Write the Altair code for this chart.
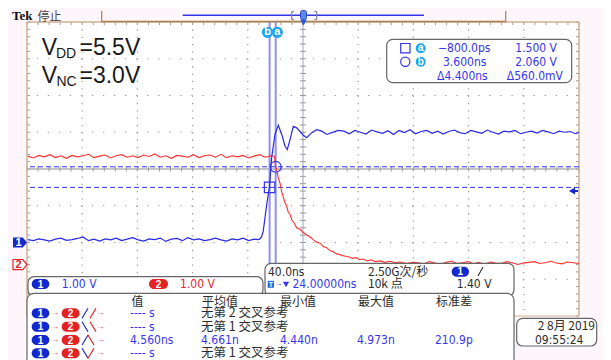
import altair as alt
import pandas as pd

# ---------------- data (read from the scope screen) ----------------
# time in ns (relative to trigger), voltage in V
CH1_BASE_T = list(range(-176, -11, 4))
CH1_BASE_V = [0.08, 0.05, 0.10, 0.07, 0.04, 0.09, 0.12, 0.06, 0.08, 0.11,
              0.15, 0.05, 0.09, 0.04, 0.10, 0.07, 0.12, 0.05, 0.09, 0.13,
              0.07, 0.04, 0.10, 0.08, 0.12, 0.03, 0.09, 0.11, 0.05, 0.13,
              0.07, 0.10, 0.05, 0.08, 0.12, 0.07, 0.04, 0.10, 0.07, 0.12,
              0.05, 0.09]
CH1_EDGE_T = [-9.2, -8.0, -6.6, -5.4, -2.9, -0.9, 0.7, 3.1, 5.5, 8.0,
              10.4, 12.0, 14.0, 16.4, 18.8, 21.2, 23.6, 26.1, 29.7, 33.3,
              37.0, 40.6, 44.2, 49.0]
CH1_EDGE_V = [0.08, 0.09, 0.16, 0.31, 1.03, 1.52, 2.31, 2.94, 3.19, 2.94,
              2.62, 2.53, 2.80, 3.16, 3.12, 3.02, 2.92, 2.85, 2.99, 3.07,
              3.03, 2.94, 2.99, 3.05]
CH1_HIGH_T = list(range(53, 222, 4)) + [223.4]
CH1_HIGH_V = [3.03, 2.96, 3.05, 3.00, 2.95, 3.06, 3.01, 2.97, 3.04, 2.94,
              3.05, 2.99, 3.07, 2.96, 3.02, 3.05, 2.97, 3.03, 2.95, 3.02,
              3.06, 2.99, 2.96, 3.05, 3.01, 2.97, 3.06, 3.00, 2.95, 3.03,
              3.01, 3.05, 2.96, 3.00, 3.03, 2.98, 3.05, 3.01, 2.96, 3.03,
              3.00, 3.02, 2.96, 3.00]

CH2_HIGH_T = list(range(-176, 1, 4))
CH2_HIGH_V = [2.95, 2.90, 2.97, 2.93, 2.99, 2.91, 2.96, 2.89, 2.97, 2.93,
              2.96, 3.00, 2.91, 2.95, 2.98, 2.90, 2.96, 2.99, 2.92, 2.96,
              2.91, 2.98, 2.94, 3.01, 2.92, 2.96, 2.89, 2.97, 2.95, 2.92,
              2.99, 2.91, 2.96, 2.98, 2.92, 3.00, 2.91, 2.96, 2.93, 2.97,
              2.90, 2.95, 2.99, 2.92, 2.96]
CH2_EDGE_T = [2.75, 3.25, 4.2, 5.5, 6.7, 7.9, 9.2, 10.4, 11.5, 12.7,
              14.0, 15.2, 17.0, 18.8, 21.2, 23.6, 26.0, 28.5, 31.0, 33.3,
              35.7, 38.1, 40.5, 43.0, 45.4, 47.8, 50.1, 52.4, 55.0, 57.5,
              59.6, 61.8, 64.5, 67.1, 69.9, 72.7, 76.0, 79.2, 82.8, 86.5,
              90.1, 93.7, 98.4, 103.1]
CH2_EDGE_V = [2.95, 2.72, 2.59, 2.36, 2.22, 1.99, 1.83, 1.68, 1.60, 1.43,
              1.37, 1.22, 1.13, 1.00, 0.96, 0.87, 0.81, 0.75, 0.67, 0.61,
              0.58, 0.49, 0.46, 0.38, 0.35, 0.29, 0.27, 0.24, 0.22, 0.20,
              0.17, 0.19, 0.13, 0.15, 0.10, 0.13, 0.08, 0.10, 0.06, 0.09,
              0.05, 0.07, 0.03, 0.06]
CH2_TAIL_T = list(range(107, 224, 4)) + [223.4]
CH2_TAIL_V = [0.05, 0.02, 0.08, 0.04, 0.01, 0.06, 0.09, 0.03, 0.05, 0.08,
              0.02, 0.06, 0.01, 0.07, 0.04, 0.03, 0.08, 0.05, 0.00, 0.04,
              0.06, 0.08, 0.03, 0.05, 0.09, 0.04, 0.02, 0.07, 0.05, 0.03,
              0.05]

CURSOR_A = (-0.8, 1.500)   # (ns, V)
CURSOR_B = (3.6, 2.060)
TRIG_LEVEL = 1.40

READOUT_T = ["\u2212800.0ps", "3.600ns", "\u03944.400ns"]
READOUT_V = ["1.500 V", "2.060 V", "\u0394560.0mV"]
CH_SCALE = ["1.00 V", "1.00 V"]
MEAS_HEAD = ["值", "平均值", "最小值", "最大值", "标准差"]
MEAS_VALUE = ["---- s", "---- s", "4.560ns", "---- s"]
MEAS_MEAN = ["无第 2 交叉参考", "无第 1 交叉参考", "4.661n", "无第 1 交叉参考"]
MEAS_MIN = ["", "", "4.440n", ""]
MEAS_MAX = ["", "", "4.973n", ""]
MEAS_STD = ["", "", "210.9p", ""]

# ---------------- screen geometry ----------------
NS_PER_DIV = 40.0
T_CENTER = 23.4
T_MIN, T_MAX = T_CENTER - 5 * NS_PER_DIV, T_CENTER + 5 * NS_PER_DIV
CH1_OFF, CH2_OFF = -2.0, -2.6          # channel ground positions in divisions
W, H = 552, 294
X0, Y0 = 27, 22                        # page position of graticule

BLUE_TR = "#2a2ae6"
RED_TR = "#ff3030"
CUR_V = "#8f8ff5"
CUR_H = "#3434e8"
TXT_BLUE = "#3636ee"
PILL_BLUE = "#1428d0"
PILL_RED = "#e42222"
CYAN = "#1ca6ee"
FRAME = "#d2b292"
BROWN = "#a8804f"
GRID = "#9a9a9a"
DARK = "#2c2c2c"
EDGE = "#666666"

NUM = "Liberation Sans Narrow, DejaVu Sans Condensed, Liberation Sans, sans-serif"
CJK = "Noto Sans CJK SC"
SANS = "Liberation Sans, Arial, sans-serif"

xs = alt.Scale(domain=[T_MIN, T_MAX], nice=False, zero=False)
ys = alt.Scale(domain=[-4, 4], nice=False, zero=False)
XT = alt.X("t:Q", scale=xs, axis=None)
YD = alt.Y("div:Q", scale=ys, axis=None)

ONE = pd.DataFrame({"k": [0]})


def X(px):
    return alt.value(px - X0)


def Y(py):
    return alt.value(py - Y0)


def tx(s, x, y, size=12, color=DARK, font=NUM, align="left", baseline="middle", weight="normal"):
    return alt.Chart(ONE).mark_text(text=s, fontSize=size, color=color, font=font, align=align,
                                    baseline=baseline, fontWeight=weight).encode(x=X(x), y=Y(y))


def box(x1, y1, x2, y2, fill="white", stroke=None, sw=1.0, r=0, fo=1.0):
    props = dict(cornerRadius=r, fill=fill, fillOpacity=fo)
    if stroke is not None:
        props.update(stroke=stroke, strokeWidth=sw)
    return alt.Chart(ONE).mark_rect(**props).encode(x=X(x1), x2=X(x2), y=Y(y1), y2=Y(y2))


def seg(x1, y1, x2, y2, color, sw=1.0, dash=None):
    props = dict(color=color, strokeWidth=sw)
    if dash is not None:
        props["strokeDash"] = dash
    return alt.Chart(ONE).mark_rule(**props).encode(x=X(x1), x2=X(x2), y=Y(y1), y2=Y(y2))


def pt(x, y, shape, size, color, filled=True, sw=1.0):
    return alt.Chart(ONE).mark_point(shape=shape, size=size, color=color, filled=filled,
                                     opacity=1, strokeWidth=sw).encode(x=X(x), y=Y(y))


def pill(x1, x2, yc, color, label, h=10):
    return [box(x1, yc - h / 2, x2, yc + h / 2, fill=color, r=h / 2),
            tx(label, (x1 + x2) / 2, yc + 0.5, size=10, color="white", font=SANS, align="center", weight="bold")]


layers = []

# ---------------- graticule ----------------
grid_t = pd.DataFrame({"t": [T_MIN + NS_PER_DIV * k for k in range(1, 10) if k != 5]})
grid_d = pd.DataFrame({"div": [-3, -2, -1, 1, 2, 3]})
layers.append(alt.Chart(grid_t).mark_rule(color=GRID, strokeDash=[1.3, 6.05], strokeWidth=1.2).encode(x=XT))
layers.append(alt.Chart(grid_d).mark_rule(color=GRID, strokeDash=[1.3, 9.74], strokeWidth=1.2).encode(y=YD))
layers.append(alt.Chart(pd.DataFrame({"t": [T_CENTER]})).mark_rule(color="#c2c2d2", strokeWidth=1.5).encode(x=XT))
layers.append(alt.Chart(pd.DataFrame({"div": [0]})).mark_rule(color="#8a8a8a", strokeWidth=1).encode(y=YD))

minor_t = pd.DataFrame({"t": [T_MIN + 8 * k for k in range(51)]})
minor_d = pd.DataFrame({"div": [-4 + 0.2 * k for k in range(41)]})
layers.append(alt.Chart(minor_t).mark_rule(color=GRID).encode(x=XT, y=alt.value(H / 2 - 2.5), y2=alt.value(H / 2 + 2.5)))
layers.append(alt.Chart(minor_d).mark_rule(color=GRID).encode(y=YD, x=alt.value(W / 2 - 3), x2=alt.value(W / 2 + 3)))
layers.append(alt.Chart(minor_t).mark_rule(color=GRID).encode(x=XT, y=alt.value(0), y2=alt.value(3)))
layers.append(alt.Chart(minor_d).mark_rule(color=GRID).encode(y=YD, x=alt.value(W - 3), x2=alt.value(W)))
layers.append(alt.Chart(minor_d).mark_rule(color=GRID).encode(y=YD, x=alt.value(0), x2=alt.value(3)))

# frame
layers.append(seg(27, 22, 579, 22, FRAME, 1.5))
layers.append(seg(27, 22, 27, 316, FRAME, 1.5))
layers.append(seg(579, 22, 579, 316, FRAME, 1.5))
layers.append(seg(27, 316, 579, 316, FRAME, 1.0))

# ---------------- cursors (behind traces) ----------------
cur = pd.DataFrame({"t": [CURSOR_A[0], CURSOR_B[0]],
                    "div": [CURSOR_A[1] + CH1_OFF, CURSOR_B[1] + CH1_OFF]})
layers.append(alt.Chart(cur).mark_rule(color=CUR_V, strokeWidth=2).encode(x=XT))
layers.append(alt.Chart(cur).mark_rule(color=CUR_H, strokeWidth=1, strokeDash=[5, 3]).encode(y=YD))

# ---------------- traces ----------------
ch1 = pd.DataFrame({"t": CH1_BASE_T + CH1_EDGE_T + CH1_HIGH_T,
                    "v": CH1_BASE_V + CH1_EDGE_V + CH1_HIGH_V})
ch1["div"] = ch1["v"] + CH1_OFF
ch2 = pd.DataFrame({"t": CH2_HIGH_T + CH2_EDGE_T + CH2_TAIL_T,
                    "v": CH2_HIGH_V + CH2_EDGE_V + CH2_TAIL_V})
ch2["div"] = ch2["v"] + CH2_OFF
layers.append(alt.Chart(ch2).mark_line(color=RED_TR, strokeWidth=1.1, clip=True).encode(x=XT, y=YD, order="t:Q"))
layers.append(alt.Chart(ch1).mark_line(color=BLUE_TR, strokeWidth=1.2, clip=True).encode(x=XT, y=YD, order="t:Q"))

# cursor markers
layers.append(alt.Chart(cur.iloc[[0]]).mark_point(shape="square", size=110, filled=False, color=CUR_H,
                                                 opacity=1, strokeWidth=1.2).encode(x=XT, y=YD))
layers.append(alt.Chart(cur.iloc[[1]]).mark_point(shape="circle", size=120, filled=False, color=CUR_H,
                                                 opacity=1, strokeWidth=1.2).encode(x=XT, y=YD))

# trigger level marker (right)
trig = pd.DataFrame({"div": [TRIG_LEVEL + CH1_OFF]})
layers.append(alt.Chart(trig).mark_point(shape="triangle-left", size=50, filled=True, color=PILL_BLUE,
                                         opacity=1).encode(y=YD, x=alt.value(W - 7)))
layers.append(alt.Chart(trig).mark_rule(color=PILL_BLUE, strokeWidth=2).encode(y=YD, x=alt.value(W - 7), x2=alt.value(W - 1)))

# channel ground markers (left)
PENTA = "M-1,-0.72 L0.4,-0.72 L1,0 L0.4,0.72 L-1,0.72 Z"
g1 = pd.DataFrame({"div": [CH1_OFF]})
g2 = pd.DataFrame({"div": [CH2_OFF]})
layers.append(alt.Chart(g1).mark_point(shape=PENTA, size=196, filled=True, color=PILL_BLUE, opacity=1).encode(y=YD, x=alt.value(20 - X0)))
layers.append(alt.Chart(g1).mark_text(text="1", color="white", fontSize=11, fontWeight="bold", font=SANS).encode(y=YD, x=alt.value(18.5 - X0)))
layers.append(alt.Chart(g2).mark_point(shape=PENTA, size=196, filled=True, color="white", opacity=1).encode(y=YD, x=alt.value(20 - X0)))
layers.append(alt.Chart(g2).mark_point(shape=PENTA, size=196, filled=False, color=PILL_RED, opacity=1, strokeWidth=1.2).encode(y=YD, x=alt.value(20 - X0)))
layers.append(alt.Chart(g2).mark_text(text="2", color=PILL_RED, fontSize=11, fontWeight="bold", font=SANS).encode(y=YD, x=alt.value(18.5 - X0)))

# cursor labels at top
layers.append(pt(267.5, 32.3, "circle", 125, CYAN))
layers.append(tx("b", 267.5, 32.3, size=11, color="white", font=SANS, align="center", weight="bold"))
layers.append(pt(277.3, 32.3, "circle", 125, CYAN))
layers.append(tx("a", 277.3, 32.3, size=11, color="white", font=SANS, align="center", weight="bold"))

# ---------------- top bar ----------------
layers.append(tx("Tek", 12, 20, size=13, color="#111111", font="Liberation Serif, serif", baseline="alphabetic", weight="bold"))
layers.append(tx("停止", 37.5, 20.5, size=12, color="#444444", font=CJK, baseline="alphabetic"))
layers.append(seg(101.7, 21.5, 505.7, 21.5, BROWN, 1.5))
layers.append(seg(101.7, 11, 101.7, 22, BROWN, 1.2))
layers.append(seg(505.7, 11, 505.7, 22, BROWN, 1.2))
layers.append(seg(182.7, 15.3, 424, 15.3, CUR_H, 1.5))
layers.append(seg(291.7, 11.5, 291.7, 19.5, "#7a84a8", 1.2))
layers.append(seg(291.7, 11.5, 294, 11.5, "#7a84a8", 1.2))
layers.append(seg(291.7, 19.5, 294, 19.5, "#7a84a8", 1.2))
layers.append(seg(316.7, 11.5, 316.7, 19.5, "#7a84a8", 1.2))
layers.append(seg(314.4, 11.5, 316.7, 11.5, "#7a84a8", 1.2))
layers.append(seg(314.4, 19.5, 316.7, 19.5, "#7a84a8", 1.2))
layers.append(box(300.5, 10.5, 306.5, 19.5, fill="#5a8ae6", stroke="#2a4ac8", sw=1, r=2))
layers.append(pt(303.5, 22.5, "triangle-down", 45, "#2a5ae0"))

# ---------------- V labels ----------------
layers.append(tx("V", 41.7, 55, size=23, color="#1a1a1a", font=SANS, baseline="alphabetic"))
layers.append(tx("DD", 56, 57.5, size=14, color="#1a1a1a", font=SANS, baseline="alphabetic"))
layers.append(tx("=5.5V", 79.5, 55, size=23, color="#1a1a1a", font=SANS, baseline="alphabetic"))
layers.append(tx("V", 41.7, 82.7, size=23, color="#1a1a1a", font=SANS, baseline="alphabetic"))
layers.append(tx("NC", 56.5, 86, size=14, color="#1a1a1a", font=SANS, baseline="alphabetic"))
layers.append(tx("=3.0V", 79.5, 82.7, size=23, color="#1a1a1a", font=SANS, baseline="alphabetic"))

# ---------------- cursor readout box ----------------
layers.append(box(386.7, 39.3, 571.7, 82.7, fill="white", stroke=EDGE, sw=1.2, r=6))
layers.append(box(400.7, 43.5, 410, 52.8, fill="white", stroke=CUR_H, sw=1.2))
layers.append(pt(405.3, 61.7, "circle", 85, CUR_H, filled=False, sw=1.2))
layers.append(pt(420.7, 48.3, "circle", 100, CYAN))
layers.append(tx("a", 420.7, 48.3, size=10, color="white", font=SANS, align="center", weight="bold"))
layers.append(pt(420.7, 61.7, "circle", 100, CYAN))
layers.append(tx("b", 420.7, 61.7, size=10, color="white", font=SANS, align="center", weight="bold"))
for i, (yy, xl) in enumerate([(48.3, 438), (61.7, 443), (75.5, 437)]):
    layers.append(tx(READOUT_T[i], xl, yy, size=12, color=TXT_BLUE))
for i, (yy, xr) in enumerate([(48.3, 557), (61.7, 557), (75.5, 563)]):
    layers.append(tx(READOUT_V[i], xr, yy, size=12, color=TXT_BLUE, align="right"))

# ---------------- bottom boxes ----------------
# timebase box
layers.append(box(265, 263.3, 514, 296, fill="white", stroke=EDGE, sw=1.2, r=6))
layers.append(tx("40.0ns", 268, 271.7, size=12, color=DARK))
layers.append(tx("2.50G次/秒", 368, 271.7, size=12, color=DARK, font=CJK))
layers += pill(451.7, 469, 271.7, PILL_BLUE, "1")
layers.append(seg(478, 276, 483, 267, DARK, 1.1))
layers.append(box(267.7, 280.8, 274, 287.8, fill="#2a6ae8"))
layers.append(tx("T", 270.9, 284.5, size=7, color="white", font=SANS, align="center", weight="bold"))
layers.append(tx("\u2192", 274.3, 284.3, size=8, color=TXT_BLUE, font=SANS))
layers.append(pt(286, 284.5, "triangle-down", 40, TXT_BLUE))
layers.append(tx("24.00000ns", 292.5, 284.3, size=12, color=TXT_BLUE))
layers.append(tx("10k 点", 368, 284.3, size=12, color=DARK, font=CJK))
layers.append(tx("1.40 V", 456.7, 284.3, size=12, color=DARK))

# channel scale box
layers.append(box(28, 276.7, 263, 296, fill="white", stroke=EDGE, sw=1.2, r=6))
layers += pill(31.7, 49.3, 284, PILL_BLUE, "1")
layers.append(tx(CH_SCALE[0], 61.7, 284, size=12, color=TXT_BLUE))
layers += pill(149, 168, 284, PILL_RED, "2")
layers.append(tx(CH_SCALE[1], 180, 284, size=12, color="#e52a2a"))

# measurement box
layers.append(box(27, 293.3, 514, 380, fill="white", stroke=EDGE, sw=1.2, r=7))
for s, xc in zip(MEAS_HEAD, [137.5, 220, 298, 376, 454]):
    layers.append(tx(s, xc, 301.5, size=12, color=DARK, font=CJK, align="center"))

ROW_Y = [313.3, 326.7, 340.0, 353.3]
GLYPH = [("up", "up"), ("dn", "dn"), ("up", "dn"), ("dn", "up")]
for i, yc in enumerate(ROW_Y):
    layers += pill(31.7, 49.3, yc, PILL_BLUE, "1")
    layers.append(tx("\u2192", 51, yc, size=8, color="#c83a3a", font=SANS))
    layers += pill(61.7, 79.5, yc, PILL_RED, "2")
    g1s, g2s = GLYPH[i]
    if g1s == "up":
        layers.append(seg(82, yc + 5, 88, yc - 5, PILL_BLUE, 1.2))
        sx = 88 if g2s == "dn" else 90
        sy = yc - 5
    else:
        layers.append(seg(82, yc - 5, 88, yc + 5, PILL_BLUE, 1.2))
        sx = 88 if g2s == "up" else 90
        sy = yc + 5
    if g2s == "up":
        layers.append(seg(sx, yc + 5 if sx == 90 else sy, sx + 6, yc - 5, PILL_RED, 1.2))
    else:
        layers.append(seg(sx, yc - 5 if sx == 90 else sy, sx + 6, yc + 5, PILL_RED, 1.2))
    layers.append(tx("\u2192", 96.5, yc, size=8, color="#c83a3a", font=SANS))
    layers.append(tx(MEAS_VALUE[i], 130, yc, size=12, color=TXT_BLUE))
    if MEAS_MEAN[i].startswith("无"):
        layers.append(tx(MEAS_MEAN[i], 201, yc, size=12.5, color=DARK, font=CJK))
    else:
        layers.append(tx(MEAS_MEAN[i], 201, yc, size=12, color=TXT_BLUE))
    if MEAS_MIN[i]:
        layers.append(tx(MEAS_MIN[i], 280, yc, size=12, color=TXT_BLUE))
        layers.append(tx(MEAS_MAX[i], 357, yc, size=12, color=TXT_BLUE))
        layers.append(tx(MEAS_STD[i], 435, yc, size=12, color=TXT_BLUE))

# date box
layers.append(box(516.7, 318.3, 596.7, 346, fill="white", stroke=EDGE, sw=1.2, r=6))
layers.append(tx("2 8月 2019", 595, 326, size=12, color=DARK, font=CJK, align="right"))
layers.append(tx("09:55:24", 535, 340, size=12, color=DARK))

chart = alt.layer(*layers).properties(
    width=W, height=H,
    autosize=alt.AutoSizeParams(type="none"),
    padding={"left": 19, "top": 14, "right": 24, "bottom": 44},
).configure(background="#fdf7fc").configure_view(fill="white", strokeWidth=0)

chart.save("out.html", embed_options={"renderer": "svg", "actions": False})
